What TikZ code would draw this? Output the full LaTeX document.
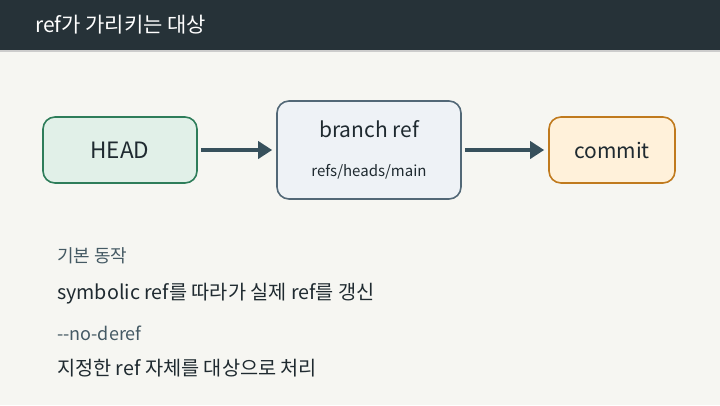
\documentclass[tikz,border=0pt]{standalone}
\usepackage{fontspec}
\setmainfont{Noto Sans CJK KR}
\usetikzlibrary{arrows.meta}
\definecolor{hdr}{HTML}{263238}
\definecolor{bg}{HTML}{F6F6F2}
\definecolor{ink}{HTML}{1F2A30}
\definecolor{sub}{HTML}{455A64}
\definecolor{arr}{HTML}{37505C}
\definecolor{gfill}{HTML}{E1F0E8}
\definecolor{gline}{HTML}{2E7D5A}
\definecolor{bfill}{HTML}{EEF2F6}
\definecolor{bline}{HTML}{526877}
\definecolor{ofill}{HTML}{FFF1DA}
\definecolor{oline}{HTML}{C07A1E}
\tikzset{
  box/.style={draw, line width=1.6pt, rounded corners=12pt, inner sep=0pt, text=ink},
  link/.style={draw=arr, line width=4pt, -{Triangle[length=14pt,width=17pt]}, shorten >=1pt},
  lbl/.style={anchor=west, inner sep=0pt, text=sub, font=\fontsize{18}{21}\selectfont},
  txt/.style={anchor=west, inner sep=0pt, text=ink, font=\fontsize{19.7}{23}\selectfont},
}
\begin{document}
\begin{tikzpicture}[x=1pt,y=-1pt]
\useasboundingbox (0,0) rectangle (720,405);
\fill[bg] (0,0) rectangle (720,405);
\fill[hdr] (0,0) rectangle (720,50);
\fill[black!20] (0,50) rectangle (720,52);
\node[anchor=west, inner sep=0pt, text=white, font=\fontsize{21}{25}\selectfont] (title) at (35,25) {ref가 가리키는 대상};

\node[box, fill=gfill, draw=gline, minimum width=154pt, minimum height=66pt, font=\fontsize{22.5}{26}\selectfont] (head) at (120,150) {HEAD};
\node[box, fill=bfill, draw=bline, minimum width=184pt, minimum height=98pt] (branch) at (369,150) {};
\node[inner sep=0pt, text=ink, font=\fontsize{21}{25}\selectfont] (bname) at (369,129) {branch ref};
\node[inner sep=0pt, text=ink, font=\fontsize{15}{18}\selectfont] (bpath) at (369,172) {refs/heads/main};
\node[box, fill=ofill, draw=oline, minimum width=126pt, minimum height=66pt, font=\fontsize{21}{24}\selectfont] (commit) at (612,150) {commit};

\draw[link] ([xshift=3pt]head.east) -- ([xshift=-3pt]branch.west);
\draw[link] ([xshift=3pt]branch.east) -- ([xshift=-3pt]commit.west);

\node[lbl] (l1) at (57,256) {기본 동작};
\node[txt] (t1) at (57,294) {symbolic ref를 따라가 실제 ref를 갱신};
\node[lbl] (l2) at (57,333) {-{}-no-deref};
\node[txt] (t2) at (57,368) {지정한 ref 자체를 대상으로 처리};
\end{tikzpicture}
\end{document}
